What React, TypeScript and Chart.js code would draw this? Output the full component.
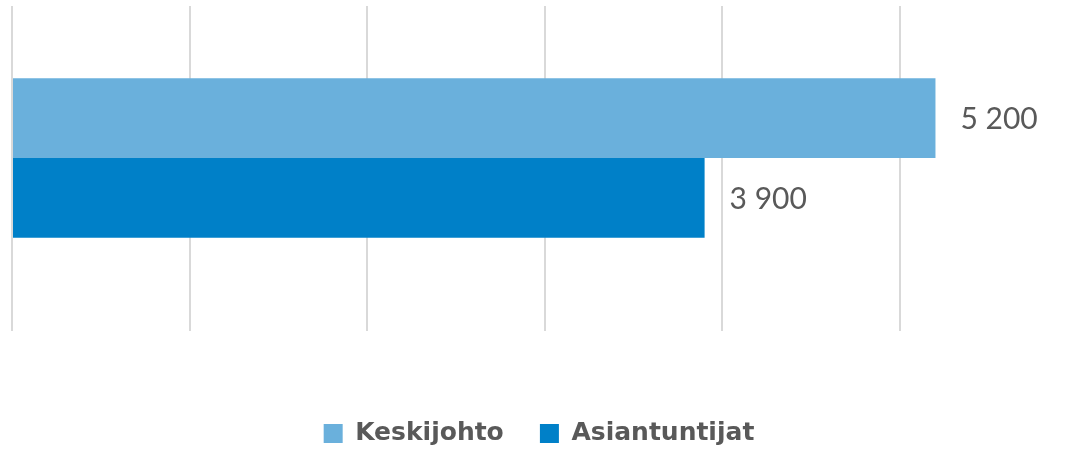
import React, { useEffect, useRef } from "react";
import { Chart, registerables } from "chart.js";

Chart.register(...registerables);

const categories = [""];
const seriesNames = ["Keskijohto", "Asiantuntijat"];
const keskijohtoValues = [5200];
const asiantuntijatValues = [3900];
const seriesColors = ["#6AB0DC", "#0080C8"];
const xTicks = [0, 1000, 2000, 3000, 4000, 5000];
const xMax = 5935;

const fmt = (v: number) => String(v).replace(/\B(?=(\d{3})+(?!\d))/g, " ");

const valueLabels = {
  id: "valueLabels",
  afterDatasetsDraw(chart: any) {
    const ctx = chart.ctx;
    ctx.save();
    ctx.font = "30px Lato";
    ctx.fillStyle = "#595959";
    ctx.textBaseline = "middle";
    ctx.textAlign = "left";
    chart.data.datasets.forEach((ds: any, i: number) => {
      const meta = chart.getDatasetMeta(i);
      meta.data.forEach((bar: any, j: number) => {
        ctx.fillText(fmt(ds.data[j]), bar.x + 25, bar.y + 1);
      });
    });
    ctx.restore();
  },
};

export default function App() {
  const ref = useRef<HTMLCanvasElement>(null);
  useEffect(() => {
    const chart = new Chart(ref.current!, {
      type: "bar",
      data: {
        labels: categories,
        datasets: [
          { label: seriesNames[0], data: keskijohtoValues, backgroundColor: seriesColors[0], borderWidth: 0 },
          { label: seriesNames[1], data: asiantuntijatValues, backgroundColor: seriesColors[1], borderWidth: 0 },
        ],
      },
      options: {
        indexAxis: "y",
        animation: false,
        responsive: false,
        layout: { padding: { top: 6, left: 12, right: 0, bottom: -5 } },
        datasets: { bar: { categoryPercentage: 0.525, barPercentage: 1 } },
        scales: {
          y: { type: "category", display: false },
          x: {
            type: "linear",
            min: 0,
            max: xMax,
            border: { display: false },
            grid: { color: "#d9d9d9", lineWidth: 2, drawTicks: true, tickLength: 21 },
            ticks: { display: false },
            afterBuildTicks: (scale: any) => {
              scale.ticks = xTicks.map((v) => ({ value: v }));
            },
            afterFit: (scale: any) => {
              scale.height = 101;
            },
          },
        },
        plugins: {
          tooltip: { enabled: false },
          legend: {
            position: "bottom",
            labels: {
              boxWidth: 19,
              boxHeight: 19,
              padding: 10,
              color: "#595959",
              font: { family: "DejaVu Sans", size: 25, weight: "bold" },
              generateLabels: (chart: any) => {
                const items = Chart.defaults.plugins.legend.labels.generateLabels(chart);
                items.forEach((it: any, i: number) => {
                  if (i < items.length - 1) it.text = it.text + "   ";
                });
                return items;
              },
            },
          },
        },
      },
      plugins: [valueLabels],
    } as any);
    return () => chart.destroy();
  }, []);
  return (
    <div style={{ position: "fixed", left: 0, top: 0, width: 1066, height: 451, background: "#fff" }}>
      <canvas ref={ref} width={1066} height={451} />
    </div>
  );
}
